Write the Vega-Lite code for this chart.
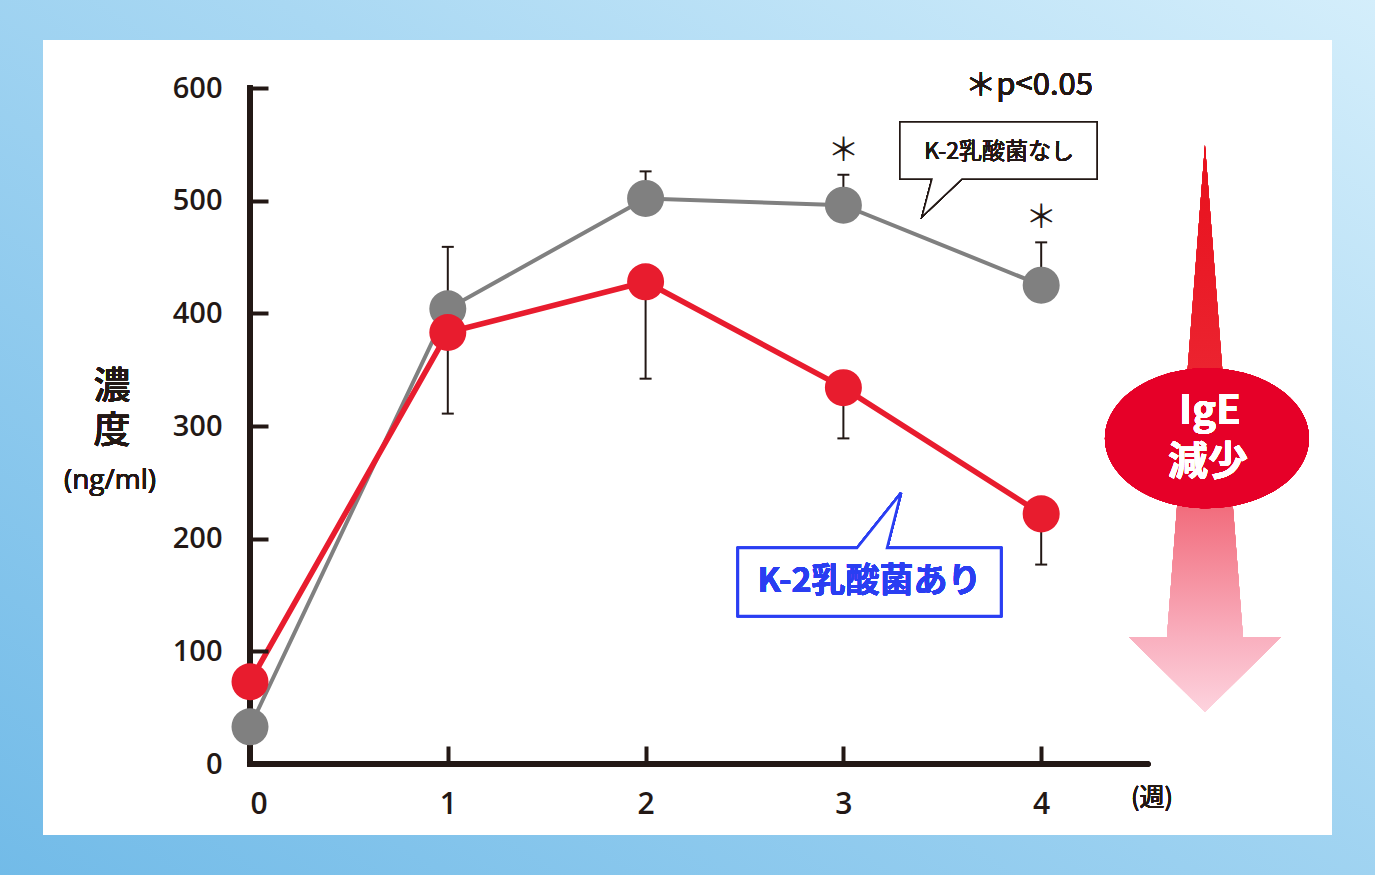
{
  "$schema": "https://vega.github.io/schema/vega-lite/v6.json",
  "width": 898,
  "height": 676,
  "autosize": "none",
  "padding": {"left": 250, "top": 88, "right": 227, "bottom": 111},
  "background": "#9fd1f1",
  "config": {"view": {"stroke": null}},
  "datasets": {
    "ige": [
      {"week": 0, "group": "なし", "mean": 33, "err_end": null, "sig": null},
      {"week": 1, "group": "なし", "mean": 404, "err_end": 459, "sig": null},
      {"week": 2, "group": "なし", "mean": 502, "err_end": 526, "sig": null},
      {"week": 3, "group": "なし", "mean": 496, "err_end": 523, "sig": "＊"},
      {"week": 4, "group": "なし", "mean": 425, "err_end": 463, "sig": "＊"},
      {"week": 0, "group": "あり", "mean": 73, "err_end": null, "sig": null},
      {"week": 1, "group": "あり", "mean": 383, "err_end": 311, "sig": null},
      {"week": 2, "group": "あり", "mean": 428, "err_end": 342, "sig": null},
      {"week": 3, "group": "あり", "mean": 334, "err_end": 289, "sig": null},
      {"week": 4, "group": "あり", "mean": 222, "err_end": 177, "sig": null}
    ]
  },
  "data": {"name": "ige"},
  "layer": [
    {
      "mark": {
        "type": "rect",
        "fill": {
          "gradient": "linear", "x1": 0, "y1": 1, "x2": 1, "y2": 0,
          "stops": [
            {"offset": 0, "color": "#72bbe8"},
            {"offset": 0.6, "color": "#a9d8f3"},
            {"offset": 1, "color": "#d4eefb"}
          ]
        }
      },
      "encoding": {
        "x": {"datum": -1.27, "type": "quantitative", "scale": {"domain": [0, 4.54], "nice": false, "zero": false},
              "axis": {"values": [0, 1, 2, 3, 4], "format": "d", "title": null, "domain": false, "grid": false,
                       "tickSize": -18, "tickWidth": 4, "tickColor": "#231815", "labelPadding": 43,
                       "labelFont": "Open Sans", "labelFontWeight": 600, "labelFontSize": 30, "labelColor": "#231815", "zindex": 1}},
        "x2": {"datum": 5.7},
        "y": {"datum": -99, "type": "quantitative", "scale": {"domain": [0, 600], "nice": false, "zero": false},
              "axis": {"values": [0, 100, 200, 300, 400, 500, 600], "title": null, "domain": false, "grid": false,
                       "tickSize": -18, "tickWidth": 4, "tickColor": "#231815", "labelPadding": 46,
                       "labelFont": "Open Sans", "labelFontWeight": 600, "labelFontSize": 29, "labelColor": "#231815", "zindex": 1}},
        "y2": {"datum": 680}
      }
    },
    {
      "mark": {"type": "rect", "fill": "white"},
      "encoding": {
        "x": {"datum": -1.0465}, "x2": {"datum": 5.47},
        "y": {"datum": 642.6}, "y2": {"datum": -63}
      }
    },
    {
      "mark": {"type": "rule", "stroke": "#231815", "strokeWidth": 5, "strokeCap": "square"},
      "encoding": {"x": {"datum": 0}, "y": {"datum": 0}, "y2": {"datum": 600}}
    },
    {
      "mark": {"type": "rule", "stroke": "#231815", "strokeWidth": 5, "strokeCap": "round"},
      "encoding": {"y": {"datum": 0}, "x": {"datum": 0}, "x2": {"datum": 4.54}}
    },
    {
      "transform": [{"filter": "datum.err_end != null"}],
      "mark": {"type": "rule", "stroke": "#231815", "strokeWidth": 2},
      "encoding": {
        "x": {"field": "week", "type": "quantitative"},
        "y": {"field": "mean", "type": "quantitative"},
        "y2": {"field": "err_end"}
      }
    },
    {
      "transform": [{"filter": "datum.err_end != null"}],
      "mark": {"type": "tick", "orient": "horizontal", "color": "#231815", "size": 12, "thickness": 2, "opacity": 1},
      "encoding": {
        "x": {"field": "week", "type": "quantitative"},
        "y": {"field": "err_end", "type": "quantitative"}
      }
    },
    {
      "transform": [{"filter": "datum.sig != null"}],
      "mark": {"type": "text", "font": "Noto Sans CJK JP", "fontSize": 32, "color": "#231815", "dy": -24, "baseline": "middle"},
      "encoding": {
        "x": {"field": "week", "type": "quantitative"},
        "y": {"field": "err_end", "type": "quantitative"},
        "text": {"field": "sig"}
      }
    },
    {
      "transform": [{"filter": "datum.group == 'なし'"}],
      "mark": {"type": "line", "color": "#808080", "strokeWidth": 4},
      "encoding": {
        "x": {"field": "week", "type": "quantitative"},
        "y": {"field": "mean", "type": "quantitative"}
      }
    },
    {
      "transform": [{"filter": "datum.group == 'なし'"}],
      "mark": {"type": "point", "shape": "circle", "filled": true, "color": "#808080", "size": 1370, "opacity": 1},
      "encoding": {
        "x": {"field": "week", "type": "quantitative"},
        "y": {"field": "mean", "type": "quantitative"}
      }
    },
    {
      "transform": [{"filter": "datum.group == 'あり'"}],
      "mark": {"type": "line", "color": "#e81c2e", "strokeWidth": 5.5},
      "encoding": {
        "x": {"field": "week", "type": "quantitative"},
        "y": {"field": "mean", "type": "quantitative"}
      }
    },
    {
      "transform": [{"filter": "datum.group == 'あり'"}],
      "mark": {"type": "point", "shape": "circle", "filled": true, "color": "#e81c2e", "size": 1370, "opacity": 1},
      "encoding": {
        "x": {"field": "week", "type": "quantitative"},
        "y": {"field": "mean", "type": "quantitative"}
      }
    },
    {
      "mark": {"type": "text", "text": "濃", "font": "Noto Sans CJK JP", "fontWeight": 500, "fontSize": 37, "color": "#231815", "baseline": "middle", "align": "center"},
      "encoding": {"x": {"datum": -0.698}, "y": {"datum": 333.5}}
    },
    {
      "mark": {"type": "text", "text": "度", "font": "Noto Sans CJK JP", "fontWeight": 500, "fontSize": 37, "color": "#231815", "baseline": "middle", "align": "center"},
      "encoding": {"x": {"datum": -0.698}, "y": {"datum": 295}}
    },
    {
      "mark": {"type": "text", "text": "(ng/ml)", "font": "Open Sans", "fontSize": 28, "color": "#231815", "baseline": "middle", "align": "center"},
      "encoding": {"x": {"datum": -0.708}, "y": {"datum": 251}}
    },
    {
      "mark": {"type": "text", "text": "＊p<0.05", "font": "Noto Sans CJK JP", "fontSize": 31, "color": "#231815", "baseline": "middle", "align": "right"},
      "encoding": {"x": {"datum": 4.262}, "y": {"datum": 602}}
    },
    {
      "mark": {"type": "text", "text": "(週)", "font": "Noto Sans CJK JP", "fontSize": 25, "color": "#231815", "baseline": "middle", "align": "center"},
      "encoding": {"x": {"datum": 4.56}, "y": {"datum": -30}}
    },
    {
      "mark": {"type": "point", "shape": "M -0.985 -0.285 L 0.985 -0.285 L 0.985 0.285 L -0.365 0.285 L -0.765 0.665 L -0.665 0.285 L -0.985 0.285 Z", "size": 40000, "filled": false, "fill": "white", "stroke": "#231815", "strokeWidth": 1.5, "opacity": 1},
      "encoding": {"x": {"datum": 3.784}, "y": {"datum": 544.6}}
    },
    {
      "mark": {"type": "text", "text": "K-2乳酸菌なし", "font": "Noto Sans CJK JP", "fontSize": 23, "color": "#231815", "baseline": "middle", "align": "center"},
      "encoding": {"x": {"datum": 3.787}, "y": {"datum": 543}}
    },
    {
      "mark": {"type": "point", "shape": "M -1.315 -0.34 L -0.125 -0.34 L 0.315 -0.89 L 0.175 -0.34 L 1.315 -0.34 L 1.315 0.34 L -1.315 0.34 Z", "size": 40000, "filled": false, "fill": "white", "stroke": "#2a3ef2", "strokeWidth": 2.5, "opacity": 1},
      "encoding": {"x": {"datum": 3.132}, "y": {"datum": 161.5}}
    },
    {
      "mark": {"type": "text", "text": "K-2乳酸菌あり", "font": "Noto Sans CJK JP", "fontWeight": "bold", "fontSize": 34, "color": "#2a3ef2", "baseline": "middle", "align": "center"},
      "encoding": {"x": {"datum": 3.132}, "y": {"datum": 161.5}}
    },
    {
      "mark": {
        "type": "point",
        "shape": "M 0 -2.83 L 0.38 2.09 L 0.76 2.09 L 0 2.84 L -0.76 2.09 L -0.38 2.09 Z",
        "size": 40000, "filled": true, "opacity": 1, "strokeWidth": 0,
        "fill": {
          "gradient": "linear", "x1": 0, "y1": 0, "x2": 0, "y2": 1,
          "stops": [
            {"offset": 0, "color": "#e8101c"},
            {"offset": 0.45, "color": "#ec2632"},
            {"offset": 0.65, "color": "#f27080"},
            {"offset": 0.87, "color": "#f9b0bf"},
            {"offset": 1, "color": "#fdd3de"}
          ]
        }
      },
      "encoding": {"x": {"datum": 4.828}, "y": {"datum": 298.2}}
    },
    {
      "mark": {"type": "point", "shape": "M -1 0 A 1 0.686 0 1 1 1 0 A 1 0.686 0 1 1 -1 0 Z", "size": 41616, "filled": true, "color": "#e60028", "opacity": 1},
      "encoding": {"x": {"datum": 4.838}, "y": {"datum": 289.2}}
    },
    {
      "mark": {"type": "text", "text": "IgE", "font": "Noto Sans CJK JP", "fontWeight": "bold", "fontSize": 40, "color": "white", "baseline": "middle", "align": "center"},
      "encoding": {"x": {"datum": 4.853}, "y": {"datum": 312.4}}
    },
    {
      "mark": {"type": "text", "text": "減少", "font": "Noto Sans CJK JP", "fontWeight": "bold", "fontSize": 40, "color": "white", "baseline": "middle", "align": "center"},
      "encoding": {"x": {"datum": 4.843}, "y": {"datum": 267.2}}
    }
  ]
}
